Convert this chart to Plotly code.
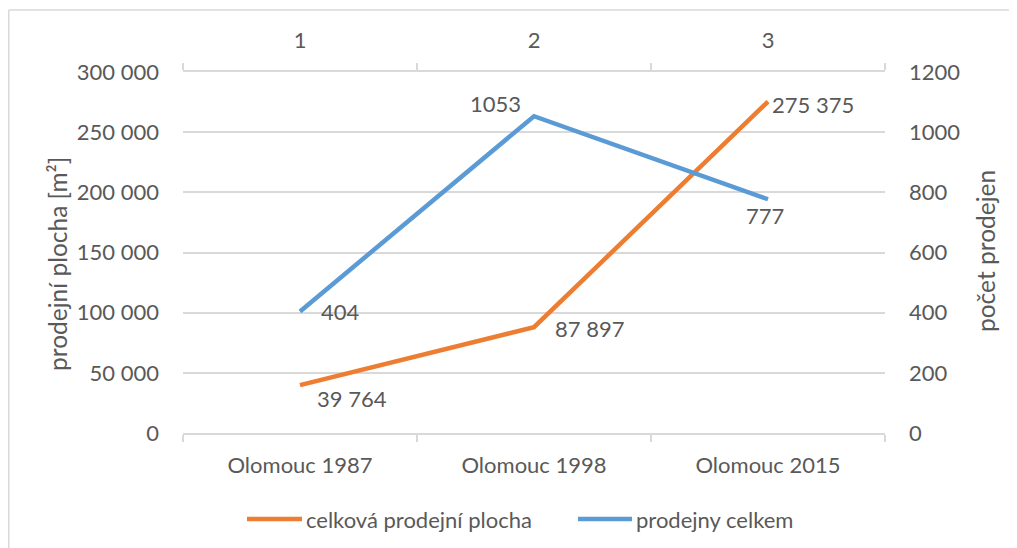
import plotly.graph_objects as go

categories = ["Olomouc 1987", "Olomouc 1998", "Olomouc 2015"]
top_labels = ["1", "2", "3"]
area = [39764, 87897, 275375]
stores = [404, 1053, 777]
area_name = "celková prodejní plocha"
stores_name = "prodejny celkem"
y_title = "prodejní plocha [m²]"
y2_title = "počet prodejen"

TXT = "#595959"
GRID = "#d9d9d9"
ORANGE = "#ED7D31"
BLUE = "#5B9BD5"
FONT = "Lato"
FS = 22
FS_TITLE = 24.5

OFF = 8  # page body margin
W, H = 1017, 548
L, R, T, B = 183 - OFF, 885 - OFF, 72 - OFF, 433 - OFF


def px(x):
    return (x - OFF - L) / (R - L)


def py(y):
    return (B - (y - OFF)) / (B - T)


fig = go.Figure()
fig.add_trace(go.Scatter(x=categories, y=area, name=area_name, mode="lines",
                         line=dict(color=ORANGE, width=4.5), showlegend=False))
fig.add_trace(go.Scatter(x=categories, y=stores, name=stores_name, mode="lines",
                         line=dict(color=BLUE, width=4.5), yaxis="y2", showlegend=False))
# invisible trace to carry the top category axis
fig.add_trace(go.Scatter(x=top_labels, y=[None] * len(top_labels), xaxis="x2",
                         showlegend=False, hoverinfo="skip", mode="lines"))


def fmt(v):
    return f"{v:,}".replace(",", " ")


tf = dict(family=FONT, size=FS, color=TXT)
ttf = dict(family=FONT, size=FS_TITLE, color=TXT)
area_shift = [(52, -13), (55, -1), (45, -3)]
store_shift = [(40, 0), (-39, 13), (-3, -16)]
ann = []
for c, v, (dx, dy) in zip(categories, area, area_shift):
    ann.append(dict(x=c, y=v, xref="x", yref="y", text=fmt(v), showarrow=False,
                    xshift=dx, yshift=dy, font=tf))
for c, v, (dx, dy) in zip(categories, stores, store_shift):
    ann.append(dict(x=c, y=v, xref="x", yref="y2", text=str(v), showarrow=False,
                    xshift=dx, yshift=dy, font=tf))
ann.append(dict(x=px(57), y=py(264), xref="paper", yref="paper",
                xanchor="center", yanchor="middle",
                text=y_title, textangle=-90, showarrow=False, font=ttf))
ann.append(dict(x=px(985), y=py(251), xref="paper", yref="paper",
                xanchor="center", yanchor="middle",
                text=y2_title, textangle=-90, showarrow=False, font=ttf))

# custom legend (line sample + text)
LEG_Y = 519
legend_items = [(area_name, ORANGE, 247, 302), (stores_name, BLUE, 578, 632)]
shapes = []
for name, col, x0, x1 in legend_items:
    shapes.append(dict(type="line", xref="paper", yref="paper",
                       x0=px(x0), x1=px(x1), y0=py(LEG_Y), y1=py(LEG_Y),
                       line=dict(color=col, width=4.5)))
    ann.append(dict(x=px(x1 + 2), y=py(LEG_Y), xref="paper", yref="paper",
                    xanchor="left", yanchor="middle", text=name, showarrow=False, font=tf))

# chart border (top and left edges visible)
shapes += [
    dict(type="line", xref="paper", yref="paper",
         x0=(0.75 - L) / (R - L), x1=(W + 5 - L) / (R - L),
         y0=py(10), y1=py(10), line=dict(color=GRID, width=1.5)),
    dict(type="line", xref="paper", yref="paper",
         x0=(0.75 - L) / (R - L), x1=(0.75 - L) / (R - L),
         y0=py(10), y1=py(H + 20), line=dict(color=GRID, width=1.5)),
]

fig.update_layout(
    width=W, height=H,
    margin=dict(l=L, r=W - R, t=T, b=H - B),
    paper_bgcolor="white", plot_bgcolor="white",
    separators=", ",
    font=tf,
    showlegend=False,
    xaxis=dict(type="category", range=[-0.5, 2.5], showgrid=False, showline=True,
               linecolor=GRID, linewidth=1.5, ticks="outside", tickson="boundaries",
               ticklen=7, tickcolor=GRID, tickwidth=1.5, ticklabelstandoff=12,
               tickfont=tf, zeroline=False),
    xaxis2=dict(type="category", range=[-0.5, 2.5], overlaying="x", side="top",
                showgrid=False, showline=True, linecolor=GRID, linewidth=1.5,
                ticks="outside", tickson="boundaries", ticklen=7, tickcolor=GRID,
                tickwidth=1.5, ticklabelstandoff=13, tickfont=tf),
    yaxis=dict(range=[0, 300000], dtick=50000, tickformat=",d", showgrid=True,
               gridcolor=GRID, gridwidth=1.5, zeroline=False, showline=False,
               ticks="", ticklabelstandoff=23, tickfont=tf),
    yaxis2=dict(range=[0, 1200], dtick=200, tickformat="d", overlaying="y", side="right",
                showgrid=False, zeroline=False, showline=False, ticks="",
                ticklabelstandoff=23, tickfont=tf),
    annotations=ann,
    shapes=shapes,
)

fig.write_html("out.html")
